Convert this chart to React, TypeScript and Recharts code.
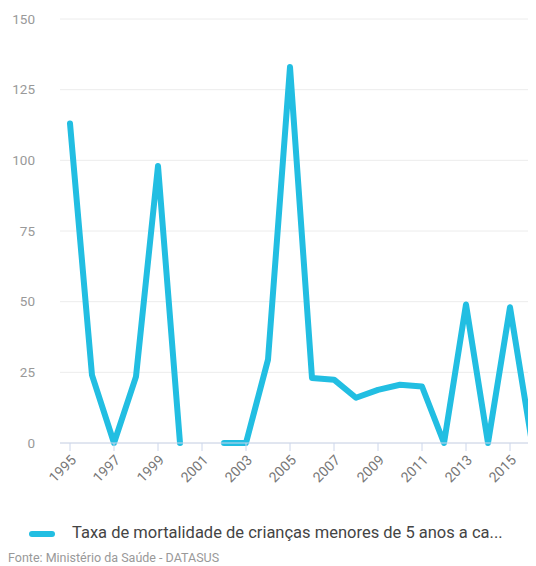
import { LineChart, Line, XAxis, YAxis, CartesianGrid } from 'recharts'

const years = [
  '1995', '1996', '1997', '1998', '1999', '2000', '2001', '2002', '2003', '2004', '2005',
  '2006', '2007', '2008', '2009', '2010', '2011', '2012', '2013', '2014', '2015', '2016',
]

// taxa por 1000 nascidos vivos (null = sem dado)
const taxa: (number | null)[] = [
  113, 24, 0, 23.5, 98, 0, null, 0, 0, 29.5, 133,
  23, 22.4, 16, 18.8, 20.6, 20, 0, 49, 0, 48, 0,
]

const yTicks = [0, 25, 50, 75, 100, 125, 150]

const legendLabel = 'Taxa de mortalidade de crianças menores de 5 anos a ca...'
const fonte = 'Fonte: Ministério da Saúde - DATASUS'

const data = years.map((ano, i) => ({ ano, taxa: taxa[i] }))

const font = 'Roboto, "DejaVu Sans", sans-serif'

export default function App() {
  return (
    <div
      style={{
        position: 'relative',
        width: 536,
        height: 566,
        marginLeft: -8,
        marginTop: -8,
        overflow: 'hidden',
        background: '#fff',
        fontFamily: font,
      }}
    >
      <LineChart width={536} height={510} data={data} margin={{ top: 19, right: 0, bottom: 0, left: 0 }}>
        <CartesianGrid vertical={false} stroke="#ececec" />
        <XAxis
          dataKey="ano"
          interval={1}
          height={67}
          padding={{ left: 10, right: 4 }}
          stroke="#ccd6eb"
          tickSize={8}
          tickMargin={3}
          angle={-45}
          textAnchor="end"
          tick={{ fill: '#777', fontSize: 14, fontFamily: font }}
        />
        <YAxis
          width={60}
          domain={[0, 150]}
          ticks={yTicks}
          axisLine={false}
          tickLine={false}
          tickSize={0}
          tickMargin={25}
          tick={{ fill: '#999', fontSize: 13.5, fontFamily: font }}
        />
        <Line
          type="linear"
          dataKey="taxa"
          stroke="#22bee2"
          strokeWidth={6}
          strokeLinejoin="round"
          strokeLinecap="round"
          dot={false}
          activeDot={false}
          connectNulls={false}
          isAnimationActive={false}
        />
      </LineChart>
      <div style={{ position: 'absolute', left: 29, top: 531, width: 26, height: 6, borderRadius: 3, background: '#22bee2' }} />
      <div style={{ position: 'absolute', left: 72, top: 523, fontSize: 16.5, color: '#444', whiteSpace: 'nowrap' }}>
        {legendLabel}
      </div>
      <div style={{ position: 'absolute', left: 8, top: 550, fontSize: 12.5, color: '#999', whiteSpace: 'nowrap' }}>
        {fonte}
      </div>
    </div>
  )
}
